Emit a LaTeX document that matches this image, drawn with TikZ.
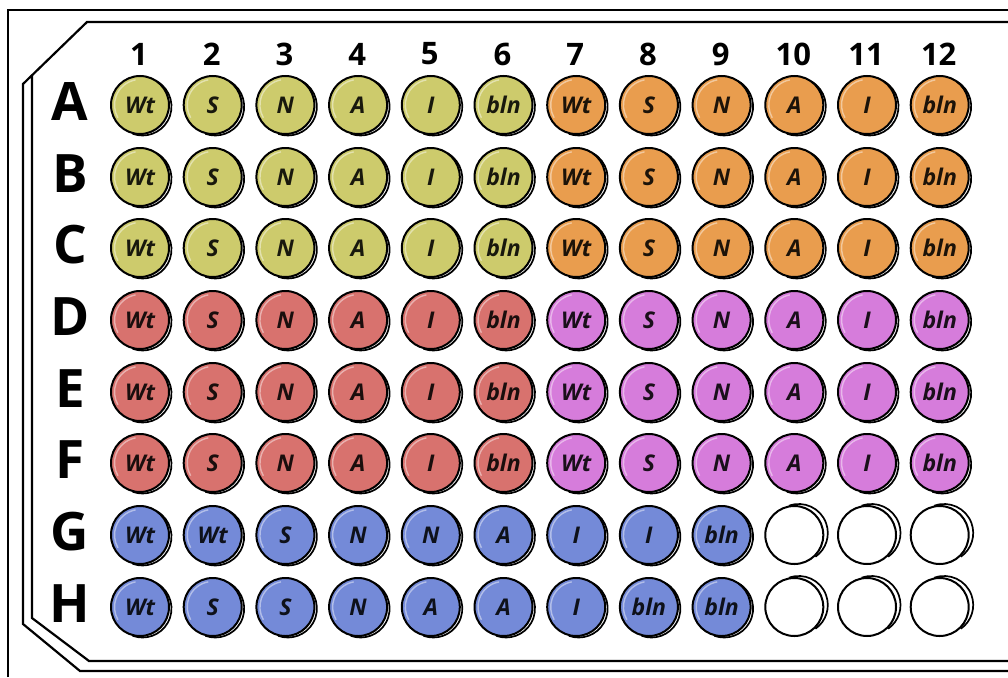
\documentclass[tikz,border=0pt]{standalone}
\usepackage{fontspec}
\setmainfont{Open Sans}
\usetikzlibrary{calc}
\definecolor{cYel}{RGB}{205,203,108}
\definecolor{cOra}{RGB}{233,157,78}
\definecolor{cRed}{RGB}{216,114,110}
\definecolor{cPin}{RGB}{214,124,219}
\definecolor{cBlu}{RGB}{116,138,216}
\tikzset{
  well/.style={circle, draw=black, line width=2pt, minimum size=58pt, inner sep=0pt,
    font=\fontsize{23}{23}\selectfont\bfseries\itshape},
  wellshadow/.style={draw=black, line width=1.7pt},
  collab/.style={font=\fontsize{31}{31}\selectfont\bfseries, inner sep=0pt},
  rowlab/.style={font=\fontsize{53}{53}\selectfont\bfseries, inner sep=0pt},
  plateline/.style={line width=2.2pt, line join=miter},
}
\newcommand\mywell[5]{%
  \pgfmathsetmacro\wx{140+72.7*(#2-1)}%
  \node[well, fill=#4, text=#4!12!black] (#1) at (\wx,#3) {#5};
  \draw[wellshadow, shift={(\wx+2.5,#3+1.5)}] (-60:29) arc[start angle=-60, end angle=110, radius=29];
  \draw[white, opacity=.45, line width=1.4pt, shift={(\wx,#3)}] (-100:25.5) arc[start angle=-100, end angle=-210, radius=25.5];
}
\newcommand\myempty[3]{%
  \pgfmathsetmacro\wx{140+72.7*(#2-1)}%
  \node[well, fill=white] (#1) at (\wx,#3) {};
  \draw[wellshadow, shift={(\wx+4.5,#3-2)}] (-110:29) arc[start angle=-110, end angle=55, radius=29];
}
\begin{document}
\begin{tikzpicture}[x=1pt,y=-1pt]
\useasboundingbox (0,0) rectangle (1008,677);
\fill[white] (0,0) rectangle (1008,677);
% frame
\draw[line width=2.6pt] (8,677) -- (8,10) -- (1008,10);
% plate outline
\draw[plateline] (1010,22) -- (87,22) -- (23,84) -- (23,624) -- (80,671) -- (1010,671);
\draw[plateline] (32,75) -- (32,618) -- (89,661) -- (1010,661);
% column labels
\foreach \c in {1,...,12}{
  \pgfmathsetmacro\cx{139+72.7*(\c-1)}
  \node[collab] (col\c) at (\cx,54) {\c};
}
% row labels
\foreach \r/\yy in {A/105,B/177,C/248,D/320,E/392,F/463,G/535,H/607}{
  \node[rowlab] (row\r) at (70,\yy-3) {\r};
}
% wells rows A-C
\foreach \r/\yy in {A/105,B/177,C/248}{
  \foreach \c/\t in {1/Wt,2/S,3/N,4/A,5/I,6/bln}{\mywell{w\r\c}{\c}{\yy}{cYel}{\t}}
  \foreach \c/\t in {7/Wt,8/S,9/N,10/A,11/I,12/bln}{\mywell{w\r\c}{\c}{\yy}{cOra}{\t}}
}
% wells rows D-F
\foreach \r/\yy in {D/320,E/392,F/463}{
  \foreach \c/\t in {1/Wt,2/S,3/N,4/A,5/I,6/bln}{\mywell{w\r\c}{\c}{\yy}{cRed}{\t}}
  \foreach \c/\t in {7/Wt,8/S,9/N,10/A,11/I,12/bln}{\mywell{w\r\c}{\c}{\yy}{cPin}{\t}}
}
% row G
\foreach \c/\t in {1/Wt,2/Wt,3/S,4/N,5/N,6/A,7/I,8/I,9/bln}{\mywell{wG\c}{\c}{535}{cBlu}{\t}}
\foreach \c in {10,11,12}{\myempty{wG\c}{\c}{535}}
% row H
\foreach \c/\t in {1/Wt,2/S,3/S,4/N,5/A,6/A,7/I,8/bln,9/bln}{\mywell{wH\c}{\c}{607}{cBlu}{\t}}
\foreach \c in {10,11,12}{\myempty{wH\c}{\c}{607}}
\end{tikzpicture}
\end{document}
